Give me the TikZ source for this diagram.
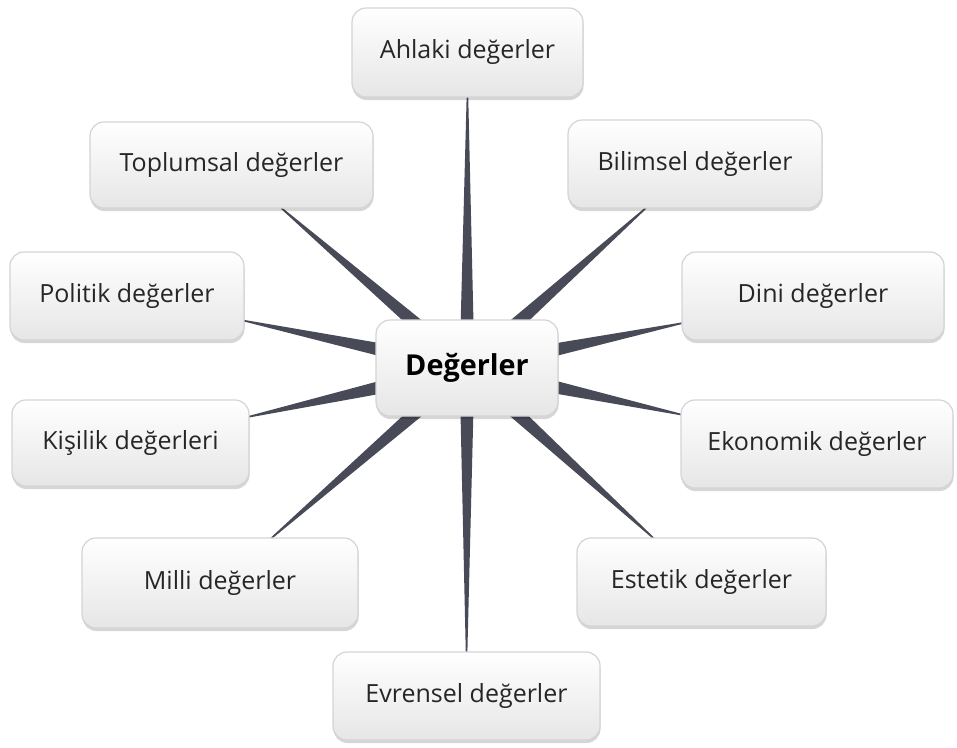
\documentclass[tikz,border=0pt]{standalone}
\usepackage{fontspec}
\setmainfont{Open Sans}
\usetikzlibrary{calc,shadows,backgrounds}
\definecolor{spikecol}{RGB}{72,75,87}
\definecolor{boxborder}{RGB}{212,212,212}
\definecolor{boxbottom}{RGB}{230,230,230}
\definecolor{txt}{RGB}{38,38,38}
\tikzset{
 valbox/.style={rectangle, rounded corners=14pt, draw=boxborder, line width=1.2pt,
   top color=white, bottom color=boxbottom,
   drop shadow={shadow xshift=0.5pt, shadow yshift=-3pt, opacity=0.16, fill=black},
   font=\fontsize{25}{29}\selectfont, text=txt, inner sep=0pt, outer sep=0pt},
 centerbox/.style={valbox, font=\fontsize{28.8}{33}\selectfont\bfseries, text=black},
 spike/.style={fill=spikecol, draw=none},
}
\begin{document}
\begin{tikzpicture}[x=1pt,y=-1pt]
\useasboundingbox (0,0) rectangle (957,747);
\node[valbox, minimum width=231, minimum height=89] (ahl) at (467.5,52.5) {Ahlaki değerler};
\node[valbox, minimum width=283, minimum height=86] (top) at (231.5,165) {Toplumsal değerler};
\node[valbox, minimum width=254, minimum height=88] (bil) at (695,164) {Bilimsel değerler};
\node[valbox, minimum width=234, minimum height=88] (pol) at (127,296) {Politik değerler};
\node[valbox, minimum width=262, minimum height=88] (din) at (813,296) {Dini değerler};
\node[valbox, minimum width=237, minimum height=86] (kis) at (130.5,443) {Kişilik değerleri};
\node[valbox, minimum width=272, minimum height=88] (eko) at (817,444) {Ekonomik değerler};
\node[valbox, minimum width=276, minimum height=90] (mil) at (220,583) {Milli değerler};
\node[valbox, minimum width=249, minimum height=88] (est) at (701.5,582) {Estetik değerler};
\node[valbox, minimum width=267, minimum height=88] (evr) at (466.5,696) {Evrensel değerler};
\node[centerbox, minimum width=182, minimum height=96] (c) at (467,368) {Değerler};
\begin{scope}[on background layer]
\fill[white] (0,0) rectangle (957,747);
\foreach \n in {ahl,top,bil,pol,din,kis,eko,mil,est,evr}{
  \path (c) -- (\n) coordinate[pos=0] (b) coordinate[pos=1] (t);
  \coordinate (b2) at ($(b)!-10pt!(t)$);
  \fill[spike] ($(b2)!6.6pt!90:(t)$) -- ($(t)!0.8pt!-90:(b2)$) -- ($(t)!0.8pt!90:(b2)$) -- ($(b2)!6.6pt!-90:(t)$) -- cycle;
}
\end{scope}
\end{tikzpicture}
\end{document}
